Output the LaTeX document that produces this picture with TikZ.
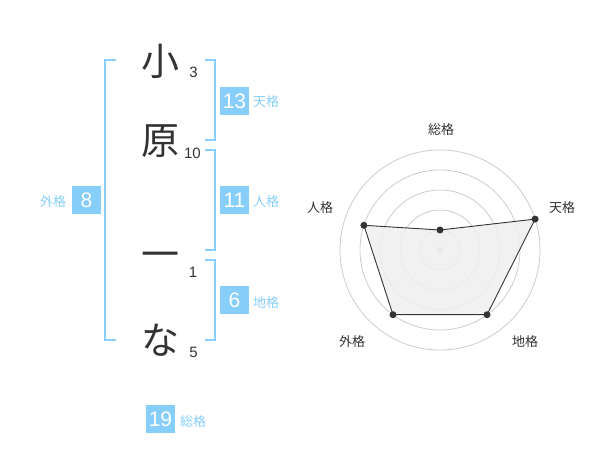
\documentclass[tikz,border=0pt]{standalone}
\usepackage{fontspec}
\setmainfont{Liberation Sans}
\newfontfamily\cjk{Noto Sans CJK JP}
\definecolor{sky}{HTML}{87CEFA}
\definecolor{ink}{HTML}{333333}
\definecolor{ring}{HTML}{CCCCCC}
\definecolor{area}{HTML}{EFEFEF}
\begin{document}
\begin{tikzpicture}[x=1pt,y=-1pt,
  bigch/.style={text=ink,inner sep=0pt,font=\cjk\fontsize{38}{38}\selectfont},
  stroke/.style={text=ink,inner sep=0pt,font=\fontsize{15}{15}\selectfont},
  numbox/.style={fill=sky,text=white,minimum width=29pt,minimum height=28pt,inner sep=0pt,font=\fontsize{21}{21}\selectfont},
  kaku/.style={text=sky,inner sep=0pt,font=\cjk\fontsize{13}{13}\selectfont},
  bracket/.style={draw=sky,line width=2pt},
  ringline/.style={draw=ring,line width=0.8pt},
  axlabel/.style={text=ink,inner sep=0pt,font=\cjk\fontsize{13}{13}\selectfont},
  dot/.style={circle,fill=ink,inner sep=0pt,minimum size=7pt}]
\useasboundingbox (0,0) rectangle (600,470);
% characters
\node[bigch] (c1) at (160,61) {小};
\node[bigch] (c2) at (160,141) {原};
\node[bigch] (c3) at (160,260) {一};
\node[bigch] (c4) at (160,340) {な};
\node[stroke] (s1) at (193.5,72.5) {3};
\node[stroke] (s2) at (192.5,153) {10};
\node[stroke] (s3) at (193,272.5) {1};
\node[stroke] (s4) at (193.5,352.5) {5};
% brackets
\draw[bracket] (116,60) -- (105,60) -- (105,340) -- (116,340);
\draw[bracket] (205,60) -- (215,60) -- (215,140) -- (205,140);
\draw[bracket] (205,150) -- (215,150) -- (215,250) -- (205,250);
\draw[bracket] (205,260) -- (215,260) -- (215,340) -- (205,340);
% boxes
\node[numbox] (ten) at (234.5,101) {13};
\node[kaku] (tenl) at (266,102) {天格};
\node[numbox] (jin) at (234.5,200) {11};
\node[kaku] (jinl) at (266,202) {人格};
\node[numbox] (chi) at (234.5,300) {6};
\node[kaku] (chil) at (266,303) {地格};
\node[numbox] (gai) at (86.5,200) {8};
\node[kaku] (gail) at (53,202) {外格};
\node[numbox] (sou) at (160.5,419) {19};
\node[kaku] (soul) at (193,422) {総格};
% radar
\coordinate (o) at (440,250);
\foreach \r in {20,40,60,80,100} \draw[ringline] (o) circle[radius=\r pt];
\fill[ring] (o) circle[radius=3.5pt];
\coordinate (ps) at (440,230);
\coordinate (pt) at (535.1,219.1);
\coordinate (pc) at (487,314.7);
\coordinate (pg) at (393,314.7);
\coordinate (pj) at (363.9,225.3);
\filldraw[fill=area,fill opacity=0.85,draw=ink,line width=0.9pt] (ps) -- (pt) -- (pc) -- (pg) -- (pj) -- cycle;
\foreach \p in {ps,pt,pc,pg,pj} \node[dot] at (\p) {};
\node[axlabel] (ls) at (441,130) {総格};
\node[axlabel] (lt) at (562,208) {天格};
\node[axlabel] (lj) at (320,208) {人格};
\node[axlabel] (lg) at (352,342) {外格};
\node[axlabel] (lc) at (525,342) {地格};
\end{tikzpicture}
\end{document}
